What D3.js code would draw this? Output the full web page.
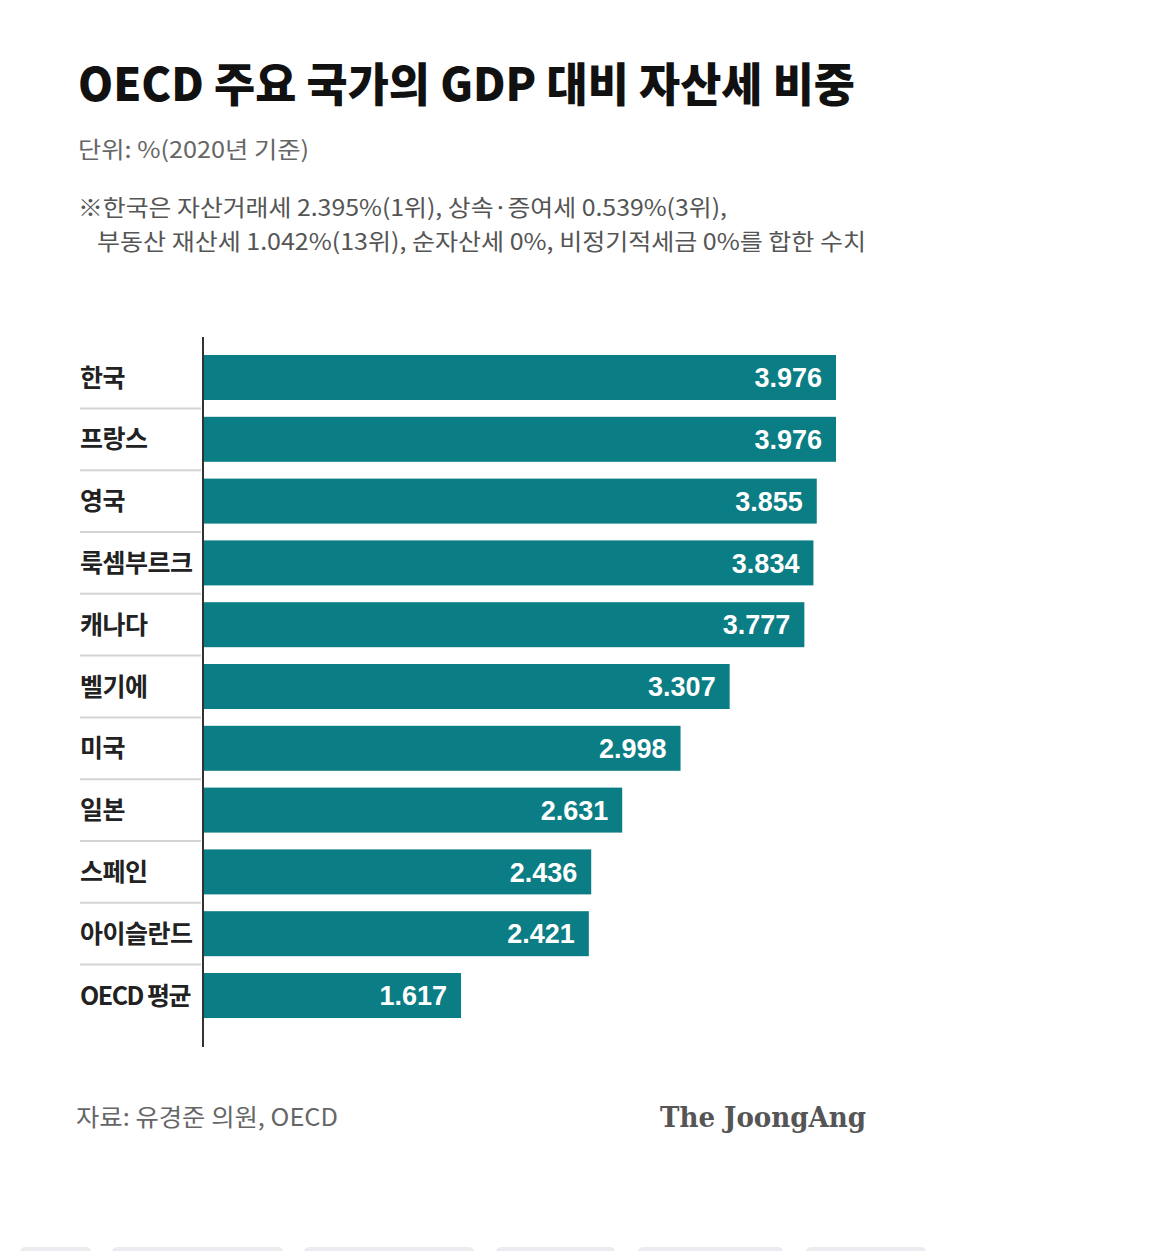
<!DOCTYPE html>
<html>
<head>
<meta charset="utf-8">
<script src="https://cdn.jsdelivr.net/npm/d3@7"></script>
<style>
  html, body { margin: 0; padding: 0; background: #fff; }
  svg { display: block; }
  text { font-family: "Noto Sans CJK KR", "Noto Sans", sans-serif; }
</style>
</head>
<body>
<script>
const countries = ["한국", "프랑스", "영국", "룩셈부르크", "캐나다", "벨기에", "미국", "일본", "스페인", "아이슬란드", "OECD 평균"];
const values = [3.976, 3.976, 3.855, 3.834, 3.777, 3.307, 2.998, 2.631, 2.436, 2.421, 1.617];
const titleText = "OECD 주요 국가의 GDP 대비 자산세 비중";
const unitText = "단위: %(2020년 기준)";
const noteLines = ["※한국은 자산거래세 2.395%(1위), 상속·증여세 0.539%(3위),", "부동산 재산세 1.042%(13위), 순자산세 0%, 비정기적세금 0%를 합한 수치"];
const sourceText = "자료: 유경준 의원, OECD";
const brandText = "The JoongAng";

const W = 1174, H = 1251;
const svg = d3.select("body").append("svg").attr("width", W).attr("height", H);

// Title & notes
svg.append("text").attr("x", 78).attr("y", 101)
  .attr("font-size", 46).attr("font-weight", 900).attr("fill", "#111")
  .attr("textLength", 777).attr("lengthAdjust", "spacingAndGlyphs")
  .text(titleText);
svg.append("text").attr("x", 78).attr("y", 158)
  .attr("font-size", 23).attr("fill", "#666")
  .attr("textLength", 231).attr("lengthAdjust", "spacingAndGlyphs")
  .text(unitText);
svg.append("text").attr("x", 78).attr("y", 216)
  .attr("font-size", 23).attr("fill", "#555")
  .attr("textLength", 649).attr("lengthAdjust", "spacingAndGlyphs")
  .text(noteLines[0]);
svg.append("text").attr("x", 97).attr("y", 250)
  .attr("font-size", 23).attr("fill", "#555")
  .attr("textLength", 769).attr("lengthAdjust", "spacingAndGlyphs")
  .text(noteLines[1]);

// Scales
const x0 = 204;
const x = d3.scaleLinear().domain([0, 3.976]).range([x0, 836]);
const y = d3.scaleBand().domain(countries).range([346.6, 1026.4]).paddingInner(0.272).paddingOuter(0.136);

// separators
const seps = countries.slice(0, -1);
svg.append("g").selectAll("line").data(seps).join("line")
  .attr("x1", 80).attr("x2", 201)
  .attr("y1", d => y(d) + y.bandwidth() + (y.step() - y.bandwidth()) / 2)
  .attr("y2", d => y(d) + y.bandwidth() + (y.step() - y.bandwidth()) / 2)
  .attr("stroke", "#d4d4d4").attr("stroke-width", 2);

// bars
svg.append("g").selectAll("rect").data(countries).join("rect")
  .attr("x", x(0)).attr("y", d => y(d))
  .attr("width", (d, i) => x(values[i]) - x(0))
  .attr("height", y.bandwidth())
  .attr("fill", "#0b7d84");

// value labels
const fmt = d3.format(".3f");
svg.append("g").selectAll("text").data(countries).join("text")
  .attr("x", (d, i) => x(values[i]) - 14)
  .attr("y", d => y(d) + y.bandwidth() / 2)
  .attr("dy", "0.36em")
  .attr("text-anchor", "end")
  .style("font-family", "'Liberation Sans', Arial, sans-serif")
  .attr("font-size", 27).attr("font-weight", 700).attr("fill", "#fff")
  .text((d, i) => fmt(values[i]));

// category labels
svg.append("g").selectAll("text").data(countries).join("text")
  .attr("x", 80)
  .attr("y", d => y(d) + y.bandwidth() / 2)
  .attr("dy", "0.36em")
  .attr("font-size", 25).attr("font-weight", 700).attr("fill", "#222")
  .attr("letter-spacing", d => d === "OECD 평균" ? -1.5 : -0.5)
  .text(d => d);

// axis line
svg.append("line").attr("x1", 203).attr("x2", 203).attr("y1", 337).attr("y2", 1047)
  .attr("stroke", "#333").attr("stroke-width", 2);

// footer
svg.append("text").attr("x", 76).attr("y", 1126)
  .attr("font-size", 24).attr("fill", "#666")
  .attr("textLength", 262).attr("lengthAdjust", "spacingAndGlyphs")
  .text(sourceText);
svg.append("text").attr("x", 660).attr("y", 1127)
  .style("font-family", "'DejaVu Serif', 'Liberation Serif', serif")
  .attr("font-size", 28).attr("font-weight", 700).attr("fill", "#555")
  .attr("textLength", 206).attr("lengthAdjust", "spacingAndGlyphs")
  .text(brandText);

// bottom chips (page UI fragment)
const chips = [[20, 91], [112, 283], [304, 474], [496, 615], [638, 783], [806, 926]];
svg.append("g").selectAll("rect").data(chips).join("rect")
  .attr("x", d => d[0]).attr("y", 1247).attr("width", d => d[1] - d[0]).attr("height", 12)
  .attr("rx", 5).attr("fill", "#eaecef");
</script>
</body>
</html>
